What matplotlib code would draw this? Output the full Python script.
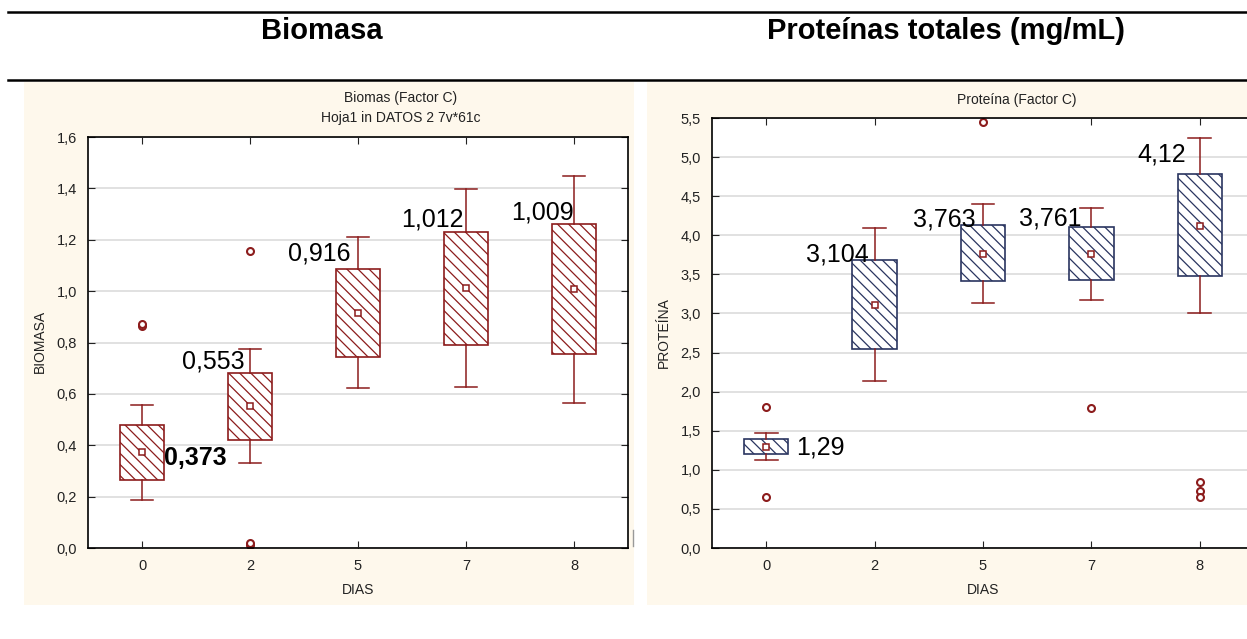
import matplotlib
matplotlib.use('Agg')
import matplotlib.pyplot as plt
from matplotlib.lines import Line2D
from matplotlib.patches import Rectangle

# Datos
dias = ['0', '2', '5', '7', '8']

bio_q1 = [0.265, 0.42, 0.745, 0.79, 0.755]
bio_q3 = [0.48, 0.68, 1.085, 1.232, 1.262]
bio_lo = [0.188, 0.332, 0.622, 0.627, 0.565]
bio_hi = [0.557, 0.774, 1.212, 1.396, 1.450]
bio_media = [0.373, 0.553, 0.916, 1.012, 1.009]
bio_out = [[0.865, 0.872], [1.156, 0.012, 0.02], [], [], []]

pro_q1 = [1.20, 2.54, 3.41, 3.43, 3.475]
pro_q3 = [1.40, 3.68, 4.135, 4.11, 4.78]
pro_lo = [1.125, 2.13, 3.13, 3.17, 3.006]
pro_hi = [1.47, 4.09, 4.40, 4.35, 5.25]
pro_media = [1.29, 3.104, 3.763, 3.761, 4.12]
pro_out = [[1.81, 0.648], [], [5.445], [1.795], [0.85, 0.73, 0.652]]

bio_ticks = [0.0, 0.2, 0.4, 0.6, 0.8, 1.0, 1.2, 1.4, 1.6]
pro_ticks = [0.0, 0.5, 1.0, 1.5, 2.0, 2.5, 3.0, 3.5, 4.0, 4.5, 5.0, 5.5]

# posiciones de las etiquetas de medias (offset x, y, alineación, negrita)
bio_lbl = [(0.2, 0.35, 'left', 'bold'), (-0.05, 0.725, 'right', 'normal'),
           (-0.07, 1.145, 'right', 'normal'), (-0.02, 1.28, 'right', 'normal'),
           (0.0, 1.307, 'right', 'normal')]
pro_lbl = [(0.28, 1.28, 'left', 'normal'), (-0.05, 3.75, 'right', 'normal'),
           (-0.07, 4.2, 'right', 'normal'), (-0.09, 4.22, 'right', 'normal'),
           (-0.13, 5.03, 'right', 'normal')]

ROJO = '#8c1c1c'
AZUL = '#2a3560'
FONDO = '#fef8ec'
TXT = '#222222'
plt.rcParams['font.family'] = ['Liberation Sans Narrow', 'Liberation Sans', 'DejaVu Sans']
plt.rcParams['hatch.linewidth'] = 0.9

fig = plt.figure(figsize=(12.47, 6.39), dpi=100)

# fondo de cada panel
fig.add_artist(Rectangle((0.0192, 0.0532), 0.4892, 0.8185, transform=fig.transFigure,
                         facecolor=FONDO, edgecolor='none', zorder=0))
fig.add_artist(Rectangle((0.519, 0.0532), 0.481, 0.8185, transform=fig.transFigure,
                         facecolor=FONDO, edgecolor='none', zorder=0))
# líneas de la tabla
for yl in [0.9812, 0.8748]:
    fig.add_artist(Line2D([0.0064, 1.0], [yl, yl], color='black', lw=1.8,
                          transform=fig.transFigure))
# pequeña marca en el borde del panel izquierdo
fig.add_artist(Line2D([0.5076, 0.5076], [0.145, 0.17], color='#999999', lw=1,
                      transform=fig.transFigure))

fig.text(0.258, 0.952, 'Biomasa', ha='center', va='center', fontsize=21,
         fontweight='bold', family=['Liberation Sans'])
fig.text(0.759, 0.952, 'Proteínas totales (mg/mL)', ha='center', va='center',
         fontsize=21, fontweight='bold', family=['Liberation Sans'])


def dibujar(ax, q1, q3, lo, hi, media, out, color_caja, ticks, etiquetas):
    stats = []
    for i in range(len(dias)):
        stats.append(dict(med=media[i], q1=q1[i], q3=q3[i], whislo=lo[i],
                          whishi=hi[i], fliers=out[i], mean=media[i]))
    ax.bxp(stats, positions=range(len(dias)), widths=0.41, capwidths=0.21,
           patch_artist=True, showmeans=True, manage_ticks=False,
           boxprops=dict(facecolor='white', edgecolor=color_caja, hatch='\\\\\\',
                         linewidth=1.2),
           medianprops=dict(linewidth=0),
           whiskerprops=dict(color=ROJO, linewidth=1.1),
           capprops=dict(color=ROJO, linewidth=1.1),
           flierprops=dict(marker='o', markerfacecolor='white', markeredgecolor=ROJO,
                           markersize=5, markeredgewidth=1.5),
           meanprops=dict(marker='s', markerfacecolor='white', markeredgecolor=ROJO,
                          markersize=5, markeredgewidth=1.1))
    ax.set_xlim(-0.5, len(dias) - 0.5)
    ax.set_ylim(ticks[0], ticks[-1])
    ax.set_xticks(range(len(dias)))
    ax.set_xticklabels(dias)
    ax.set_yticks(ticks)
    ax.set_yticklabels([f'{t:.1f}'.replace('.', ',') for t in ticks])
    ax.grid(axis='y', color='#dcdcdc', linewidth=1.2)
    ax.set_axisbelow(True)
    ax.tick_params(direction='in', length=5, top=True, right=True,
                   labelsize=10.5, colors=TXT, pad=8)
    for s in ax.spines.values():
        s.set_linewidth(1.2)
        s.set_color('black')
    for i, (dx, y, ha, fw) in enumerate(etiquetas):
        ax.text(i + dx, y, f'{media[i]}'.replace('.', ','), ha=ha, va='center',
                fontsize=18, fontweight=fw, color='black',
                family=['Liberation Sans'], zorder=5)


ax1 = fig.add_axes([0.0706, 0.1424, 0.433, 0.6432])
dibujar(ax1, bio_q1, bio_q3, bio_lo, bio_hi, bio_media, bio_out, ROJO, bio_ticks, bio_lbl)
ax2 = fig.add_axes([0.571, 0.1424, 0.4346, 0.6729])
dibujar(ax2, pro_q1, pro_q3, pro_lo, pro_hi, pro_media, pro_out, AZUL, pro_ticks, pro_lbl)

fig.text(0.321, 0.846, 'Biomas (Factor C)', ha='center', va='center', fontsize=10, color=TXT)
fig.text(0.321, 0.815, 'Hoja1 in DATOS 2 7v*61c', ha='center', va='center', fontsize=10, color=TXT)
fig.text(0.032, 0.466, 'BIOMASA', ha='center', va='center', rotation=90, fontsize=10, color=TXT)
fig.text(0.287, 0.077, 'DIAS', ha='center', va='center', fontsize=10, color=TXT)

fig.text(0.815, 0.843, 'Proteína (Factor C)', ha='center', va='center', fontsize=10, color=TXT)
fig.text(0.532, 0.479, 'PROTEÍNA', ha='center', va='center', rotation=90, fontsize=10, color=TXT)
fig.text(0.788, 0.077, 'DIAS', ha='center', va='center', fontsize=10, color=TXT)

fig.savefig('out.png', dpi=100)
